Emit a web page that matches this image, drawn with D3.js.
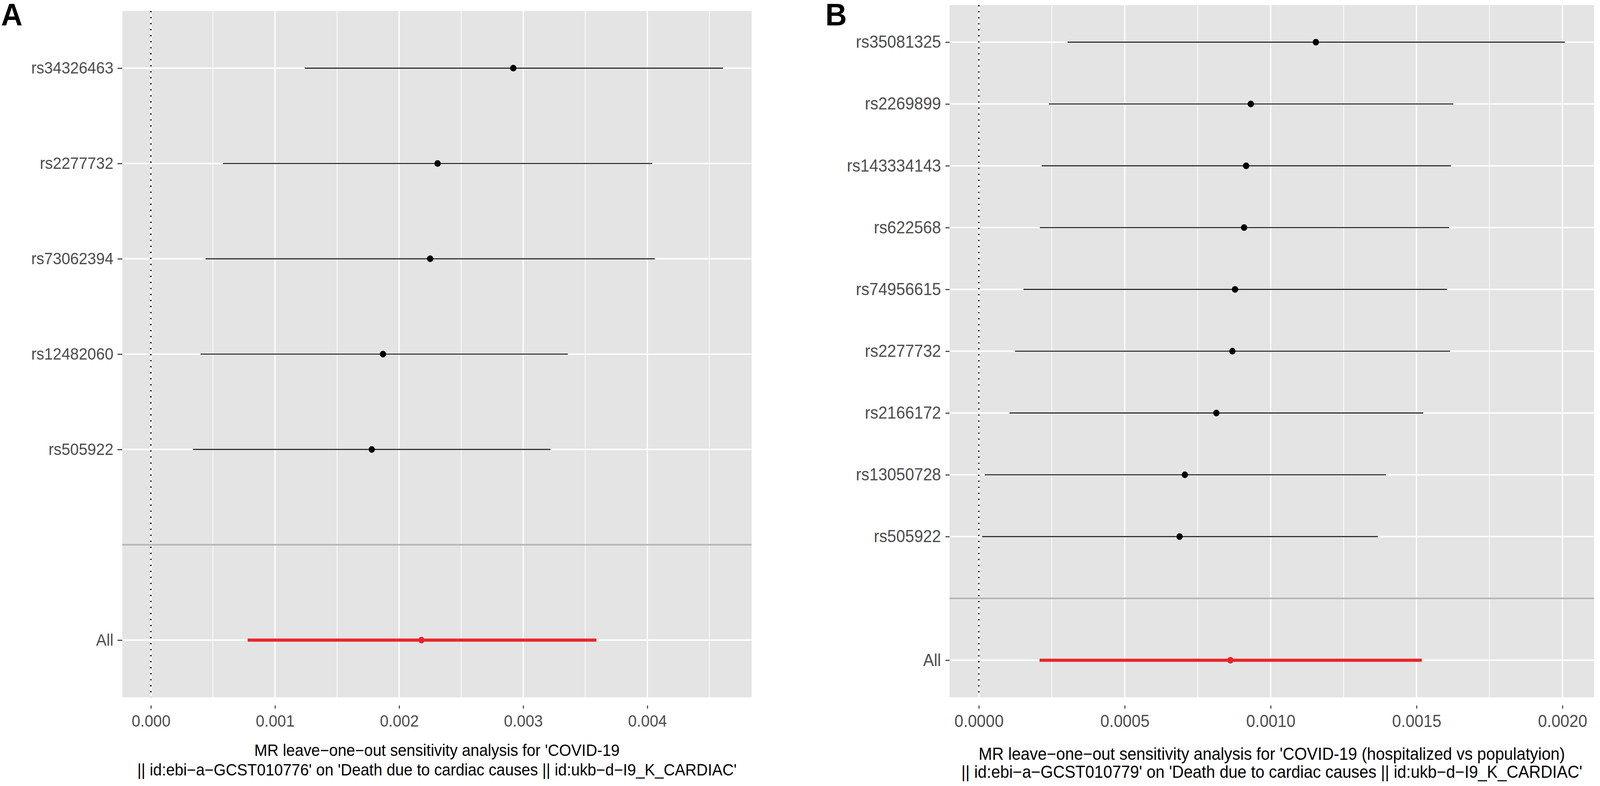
<!DOCTYPE html>
<html>
<head>
    <meta charset="utf-8">
    <title>MR leave-one-out</title>
    <script src="https://cdnjs.cloudflare.com/ajax/libs/d3/7.6.1/d3.min.js"></script>
    <style>
        html, body {
            margin: 0;
            padding: 0;
            background: #ffffff;
            overflow: hidden;
        }
        svg {
            display: block;
        }
        svg text {
            font-family: 'Liberation Sans', Arial, Helvetica, sans-serif;
        }
    </style>
</head>
<body>
<div id="chart"></div>
<script>
    // panel A : COVID-19 (GCST010776)
    const snpsA = ["rs34326463", "rs2277732", "rs73062394", "rs12482060", "rs505922"];
    const bA  = [0.00292, 0.00231, 0.00225, 0.00187, 0.00178];
    const loA = [0.00124, 0.00058, 0.00044, 0.00040, 0.00034];
    const hiA = [0.00461, 0.00404, 0.00406, 0.00336, 0.00322];
    const allA = { b: 0.00218, lo: 0.00078, hi: 0.00359 };
    const ticksA = [0, 0.001, 0.002, 0.003, 0.004];
    const tickLabelsA = ["0.000", "0.001", "0.002", "0.003", "0.004"];
    const titleA = ["MR leave\u2212one\u2212out sensitivity analysis for 'COVID-19",
        "|| id:ebi\u2212a\u2212GCST010776' on 'Death due to cardiac causes || id:ukb\u2212d\u2212I9_K_CARDIAC'"];

    // panel B : COVID-19 hospitalized vs population (GCST010779)
    const snpsB = ["rs35081325", "rs2269899", "rs143334143", "rs622568", "rs74956615",
        "rs2277732", "rs2166172", "rs13050728", "rs505922"];
    const bB  = [0.001155, 0.000932, 0.000916, 0.000909, 0.000878, 0.000869, 0.000814, 0.000706, 0.000688];
    const loB = [0.000304, 0.000240, 0.000215, 0.000209, 0.000153, 0.000124, 0.000105, 0.000020, 0.000011];
    const hiB = [0.002008, 0.001626, 0.001618, 0.001612, 0.001604, 0.001615, 0.001523, 0.001395, 0.001367];
    const allB = { b: 0.000862, lo: 0.000208, hi: 0.001518 };
    const ticksB = [0, 0.0005, 0.001, 0.0015, 0.002];
    const tickLabelsB = ["0.0000", "0.0005", "0.0010", "0.0015", "0.0020"];
    const titleB = ["MR leave\u2212one\u2212out sensitivity analysis for 'COVID-19 (hospitalized vs populatyion)",
        "|| id:ebi\u2212a\u2212GCST010779' on 'Death due to cardiac causes || id:ukb\u2212d\u2212I9_K_CARDIAC'"];

    // drawing coordinates are in a 4317 x 2011 frame, scaled to the window
    const W = 4317, H = 2011;

    const svg = d3.select("#chart")
        .append("svg")
        .attr("width", window.innerWidth)
        .attr("height", window.innerHeight)
        .attr("viewBox", "0 0 " + W + " " + H)
        .attr("preserveAspectRatio", "none");

    svg.append("rect").attr("width", W).attr("height", H).attr("fill", "#ffffff");

    function drawPanel(p) {
        const rows = p.snps.map((s, i) => ({ snp: s, b: p.b[i], lo: p.lo[i], hi: p.hi[i] }));
        const cats = p.snps.concat(["", "All"]);

        // ggplot style limits: include 0 (vline), expand 5%
        const xmin = Math.min(0, d3.min(p.lo), p.all.lo);
        const xmax = Math.max(0, d3.max(p.hi), p.all.hi);
        const pad = (xmax - xmin) * 0.05;

        const x = d3.scaleLinear()
            .domain([xmin - pad, xmax + pad])
            .range([p.left, p.right]);

        const y = d3.scalePoint()
            .domain(cats)
            .range([p.top, p.bottom])
            .padding(0.6);

        const g = svg.append("g");

        g.append("rect")
            .attr("x", p.left).attr("y", p.top)
            .attr("width", p.right - p.left).attr("height", p.bottom - p.top)
            .attr("fill", "#e4e4e4");

        // minor grid (midpoints between breaks)
        const step = p.ticks[1] - p.ticks[0];
        const minor = d3.range(p.ticks[0] - step / 2, xmax + pad, step)
            .filter(v => v > xmin - pad && v < xmax + pad);
        g.selectAll(".minor").data(minor).enter().append("line")
            .attr("x1", d => x(d)).attr("x2", d => x(d))
            .attr("y1", p.top).attr("y2", p.bottom)
            .attr("stroke", "#ffffff").attr("stroke-width", 1.8);

        g.selectAll(".major").data(p.ticks).enter().append("line")
            .attr("x1", d => x(d)).attr("x2", d => x(d))
            .attr("y1", p.top).attr("y2", p.bottom)
            .attr("stroke", "#ffffff").attr("stroke-width", 3.4);

        g.selectAll(".hgrid").data(cats).enter().append("line")
            .attr("x1", p.left).attr("x2", p.right)
            .attr("y1", d => y(d)).attr("y2", d => y(d))
            .attr("stroke", "#ffffff").attr("stroke-width", 3.6);

        // zero line, dotted
        g.append("line")
            .attr("x1", x(0)).attr("x2", x(0))
            .attr("y1", p.top).attr("y2", p.bottom)
            .attr("stroke", "#000000").attr("stroke-width", 3.4)
            .attr("stroke-dasharray", "3.4,12");

        // separator between SNPs and All
        g.append("line")
            .attr("x1", p.left).attr("x2", p.right)
            .attr("y1", y("")).attr("y2", y(""))
            .attr("stroke", "#b4b4b4").attr("stroke-width", 4);

        g.selectAll(".err").data(rows).enter().append("line")
            .attr("x1", d => x(d.lo)).attr("x2", d => x(d.hi))
            .attr("y1", d => y(d.snp)).attr("y2", d => y(d.snp))
            .attr("stroke", "#1a1a1a").attr("stroke-width", 2.6);

        g.selectAll(".pt").data(rows).enter().append("circle")
            .attr("cx", d => x(d.b)).attr("cy", d => y(d.snp))
            .attr("r", 8.5).attr("fill", "#000000");

        g.append("line")
            .attr("x1", x(p.all.lo)).attr("x2", x(p.all.hi))
            .attr("y1", y("All")).attr("y2", y("All"))
            .attr("stroke", "#e8262a").attr("stroke-width", 8);

        g.append("circle")
            .attr("cx", x(p.all.b)).attr("cy", y("All"))
            .attr("r", 8.5).attr("fill", "#e8262a");

        // x axis
        const xAxis = d3.axisBottom(x)
            .tickValues(p.ticks)
            .tickFormat((d, i) => p.tickLabels[i])
            .tickSize(8)
            .tickPadding(16);

        const gx = g.append("g")
            .attr("transform", "translate(0," + (p.bottom + 21) + ")")
            .call(xAxis);
        gx.select(".domain").remove();
        gx.selectAll(".tick line").attr("stroke", "#333333").attr("stroke-width", 2.6);
        gx.selectAll(".tick text")
            .attr("fill", "#4d4d4d")
            .style("font-size", p.fs + "px");

        // y axis
        const yAxis = d3.axisLeft(y)
            .tickValues(cats.filter(c => c !== ""))
            .tickSize(p.yTick)
            .tickPadding(p.yPad);

        const gy = g.append("g")
            .attr("transform", "translate(" + p.left + ",0)")
            .call(yAxis);
        gy.select(".domain").remove();
        gy.selectAll(".tick line").attr("stroke", "#333333").attr("stroke-width", 2.6);
        gy.selectAll(".tick text")
            .attr("fill", "#4d4d4d")
            .style("font-size", p.fs + "px");

        // axis title (two lines)
        const cx = (p.left + p.right) / 2;
        g.selectAll(".xtitle").data(p.title).enter().append("text")
            .attr("x", cx)
            .attr("y", (d, i) => p.titleY[i])
            .attr("text-anchor", "middle")
            .attr("fill", "#000000")
            .style("font-size", p.fs + "px")
            .text(d => d);

        // panel letter
        g.append("text")
            .attr("x", p.letterX).attr("y", 65)
            .attr("fill", "#000000")
            .style("font-size", "80px")
            .style("font-weight", "bold")
            .text(p.letter);
    }

    drawPanel({
        snps: snpsA, b: bA, lo: loA, hi: hiA, all: allA,
        ticks: ticksA, tickLabels: tickLabelsA, title: titleA,
        left: 330, right: 2028, top: 28, bottom: 1784,
        yTick: 13, yPad: 11, fs: 42,
        titleY: [1934, 1984],
        letter: "A", letterX: 3
    });

    drawPanel({
        snps: snpsB, b: bB, lo: loB, hi: hiB, all: allB,
        ticks: ticksB, tickLabels: tickLabelsB, title: titleB,
        left: 2562, right: 4301, top: 13, bottom: 1784,
        yTick: 11, yPad: 12, fs: 43.5,
        titleY: [1944, 1990],
        letter: "B", letterX: 2227
    });
</script>
</body>
</html>
